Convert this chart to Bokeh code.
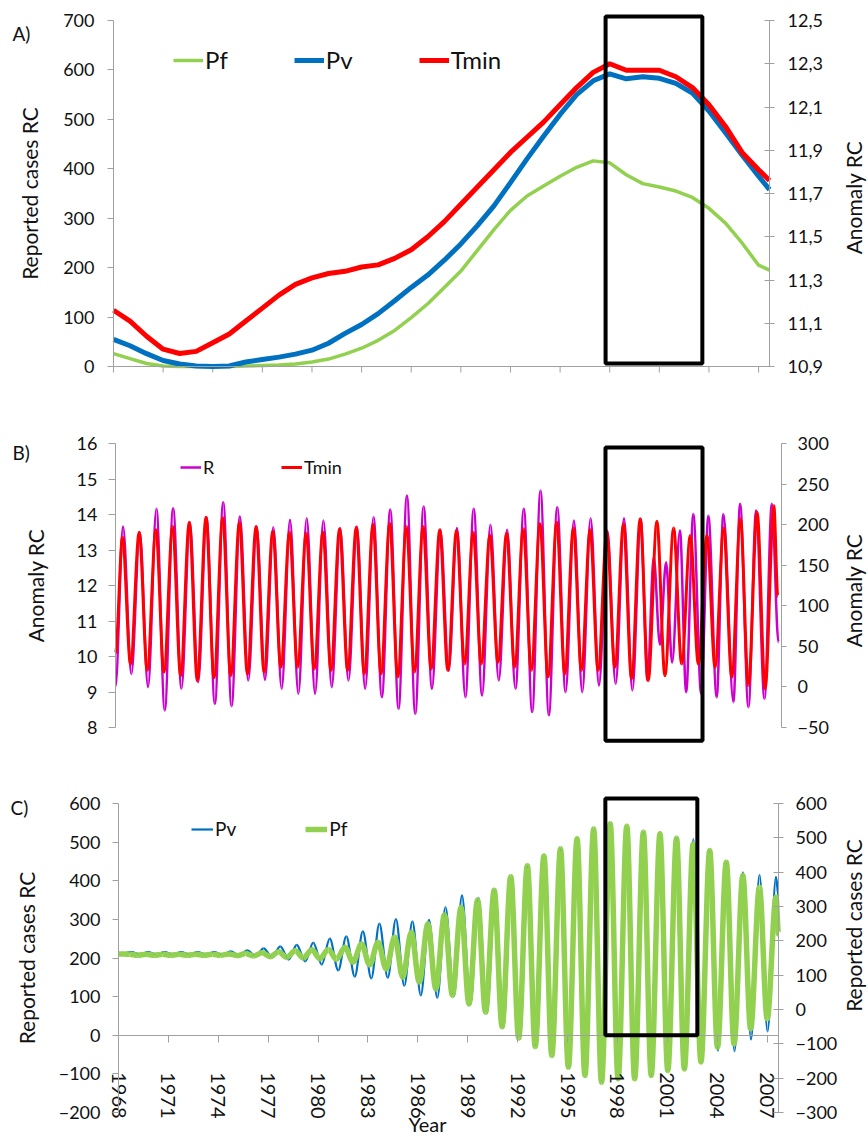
import math
from bokeh.plotting import figure
from bokeh.models import (ColumnDataSource, Range1d, LinearAxis, FixedTicker,
                          CustomJSTickFormatter, Legend, LegendItem, Label, PolyAnnotation)
from bokeh.layouts import column
from bokeh.embed import file_html
from bokeh.resources import INLINE

FONT = "Lato"
TXT = "#111111"
AXC = "#a0a0a0"
GREEN = "#92D050"
BLUE = "#0070C0"
RED = "#FF0000"
MAGENTA = "#CC00CC"

YEARS = list(range(1968, 2008))
TICK_YEARS = list(range(1968, 2008, 3))

# ---------------- Panel A : smoothed series ----------------
A_T = YEARS + [2007.66]
A_PF = [26, 16, 6, 1, 0, 0, 0, 0, 1, 2, 3, 5, 9, 15, 25, 37, 53, 73, 99, 127,
        160, 193, 235, 277, 316, 345, 365, 385, 403, 416, 412, 388, 370, 363, 355, 342,
        320, 290, 250, 205, 195]
A_PV = [55, 42, 26, 12, 5, 1, 0, 1, 9, 14, 19, 25, 33, 47, 67, 85, 107, 133, 160, 185,
        215, 248, 285, 325, 372, 420, 466, 510, 550, 578, 592, 582, 586, 583, 573, 553,
        517, 473, 428, 385, 358]
A_TMIN = [11.16, 11.11, 11.04, 10.98, 10.96, 10.97, 11.01, 11.05, 11.11, 11.17,
          11.23, 11.28, 11.31, 11.33, 11.34, 11.36, 11.37, 11.40, 11.44, 11.50,
          11.57, 11.65, 11.73, 11.81, 11.89, 11.96, 12.03, 12.11, 12.19, 12.26,
          12.30, 12.27, 12.27, 12.27, 12.24, 12.19, 12.11, 12.01, 11.89, 11.81, 11.76]
A_BOX = (1997.75, 2003.6, 6, 708)

# ---------------- Panel B : seasonal R and Tmin ----------------
B_TMIN_START, B_TMIN_END = 10.1, 11.7
B_TMIN_PEAKS = [13.36, 13.50, 13.57, 13.66, 13.78, 13.92, 13.91, 13.78, 13.66, 13.53,
                13.50, 13.47, 13.50, 13.60, 13.64, 13.72, 13.75, 13.66, 13.66, 13.57,
                13.55, 13.50, 13.41, 13.47, 13.60, 13.74, 13.78, 13.62, 13.57, 13.50,
                13.74, 13.88, 13.81, 13.62, 13.41, 13.41, 13.62, 13.88, 14.06, 14.25]
B_TMIN_TROUGHS = [9.79, 9.61, 9.56, 9.46, 9.32, 9.40, 9.46, 9.51, 9.56, 9.70,
                  9.70, 9.65, 9.61, 9.61, 9.51, 9.51, 9.42, 9.56, 9.65, 9.61,
                  9.79, 9.79, 9.84, 9.70, 9.61, 9.42, 9.51, 9.61, 9.61, 9.70,
                  9.37, 9.32, 9.46, 9.79, 9.79, 9.70, 9.42, 9.18, 9.09]
B_R_START, B_R_END = 0.5, 55
B_R_PEAKS = [197.7, 190.7, 219.5, 220.3, 203, 209, 227.7, 210, 197.7, 196.9,
             206, 208, 205, 196, 197.7, 209, 218.7, 236, 222.4, 193.6,
             196, 219.5, 199.8, 193.6, 219.5, 242, 221.5, 205, 208, 192.8,
             208, 207, 160, 153.7, 192.8, 213, 211, 213, 225.7, 217.4, 225.7]
B_R_TROUGHS = [16, -0.3, -29, -2.3, 5.8, -20.8, -23.7, 7.9, 8.8, -2.3,
               -8.5, -8.5, -0.3, 7.9, -2.3, -12.7, -27, -33, -2.3, 20,
               -12.7, -10.6, 7.9, -2.3, -31, -35, -6.5, -6.5, 1.8, 3.8,
               -4.4, 8, 52, 30, -6.5, -8.5, -12.7, -18.8, -25, -14.6]
B_R_PEAK_T = [y + 0.45 for y in range(1968, 2000)] + \
    [2000.23, 2000.97, 2001.8, 2002.6, 2003.5, 2004.4, 2005.4, 2006.36, 2007.3]
B_R_TROUGH_T = [y + 0.95 for y in range(1968, 1999)] + \
    [1999.85, 2000.6, 2001.33, 2002.17, 2003.07, 2004.0, 2005.0, 2005.9, 2006.86]
B_BOX = (1997.34, 2003.15, 7.63, 15.89)

# ---------------- Panel C : seasonal Pv and Pf ----------------
C_START_T, C_END_T = 1968.0, 2007.68
C_PV_START, C_PV_END = 210, 360
C_PV_PEAKS = [215, 215, 215, 215, 215, 215, 217, 220, 225, 230,
              234, 240, 250, 256, 269, 289, 301, 295, 299, 332,
              362, 356, 375, 410, 440, 465, 483, 508, 534, 547,
              541, 525, 521, 510, 508, 478, 447, 422, 415, 410]
C_PV_TROUGHS = [209, 209, 209, 209, 209, 208, 207, 205, 201, 196,
                191, 183, 168, 152, 147, 149, 128, 103, 97, 101,
                79, 58, 20, -9, -31, -55, -85, -106, -124, -115,
                -115, -106, -94, -89, -72, -40, -42, -11, 10]
C_PF_START, C_PF_END = 162, 220
C_PF_PEAKS = [161, 161, 161, 161, 161, 161, 162, 163, 165, 168,
              171, 174, 175, 181, 191, 196, 211, 225, 249, 276,
              298, 320, 347, 387, 419, 447, 468, 497, 526, 541,
              534, 516, 512, 499, 482, 463, 429, 390, 356, 327]
C_PF_TROUGHS = [158, 158, 158, 158, 158, 158, 157, 156, 154, 152,
                150, 148, 146, 138, 130, 118, 94, 80, 60, 41,
                16, -8, -50, -83, -108, -134, -168, -192, -212, -202,
                -202, -192, -178, -173, -153, -110, -100, -56, -27]
C_PV_PEAK_T = [y + 0.78 - 0.25 * (y - 1968) / 39 for y in YEARS]
C_PV_TROUGH_T = [y + 0.30 - 0.28 * (y - 1969) / 38 for y in YEARS[1:]]
C_PF_PEAK_T = [y + 0.66 - 0.13 * (y - 1968) / 39 for y in YEARS]
C_PF_TROUGH_T = [y + 0.15 - 0.15 * (y - 1969) / 38 for y in YEARS[1:]]
C_BOX = (1997.27, 2002.8, 0, 613)

W = 868


def geo_range(va, pa_, vb, pb_, total):
    """Range whose value va sits at pixel pa_ and vb at pixel pb_ (of a total span)."""
    s = (vb - va) / (pb_ - pa_)
    start = va - pa_ * s
    return Range1d(start, start + total * s)


def extrema_sequence(t0, v0, pt, pv, tt, tv, t1, v1):
    t, v = [t0], [v0]
    for i in range(len(pt)):
        t.append(pt[i]); v.append(pv[i])
        if i < len(tt):
            t.append(tt[i]); v.append(tv[i])
    t.append(t1); v.append(v1)
    return t, v


def smooth_source(t, v):
    d = dict(x0=[], y0=[], x1=[], y1=[], cx0=[], cy0=[], cx1=[], cy1=[])
    for i in range(len(t) - 1):
        a, b = t[i], t[i + 1]
        h = (b - a) / 3.0
        d["x0"].append(a); d["y0"].append(v[i])
        d["x1"].append(b); d["y1"].append(v[i + 1])
        d["cx0"].append(a + h); d["cy0"].append(v[i])
        d["cx1"].append(b - h); d["cy1"].append(v[i + 1])
    return ColumnDataSource(d)


def style_axis(ax, tin, tout, lab_standoff, title_standoff, size="18px"):
    ax.axis_line_color = AXC
    ax.axis_line_width = 1
    ax.major_tick_line_color = AXC
    ax.minor_tick_line_color = None
    ax.major_tick_in = tin
    ax.major_tick_out = tout
    ax.major_label_standoff = lab_standoff
    ax.major_label_text_font = FONT
    ax.major_label_text_font_size = size
    ax.major_label_text_color = TXT
    ax.axis_label_standoff = title_standoff
    ax.axis_label_text_font = FONT
    ax.axis_label_text_font_size = "21px"
    ax.axis_label_text_font_style = "normal"
    ax.axis_label_text_color = TXT


def base_fig(h, xr, yr):
    p = figure(width=W, height=h, min_border=0, min_border_left=0, min_border_right=0,
               min_border_top=0, min_border_bottom=0, x_range=xr, y_range=yr,
               output_backend="svg", toolbar_location=None)
    p.outline_line_color = None
    p.xgrid.visible = False
    p.ygrid.visible = False
    p.background_fill_color = "white"
    p.border_fill_color = "white"
    return p


def box(p, b):
    x0, x1, y0, y1 = b
    p.add_layout(PolyAnnotation(xs=[x0, x1, x1, x0], ys=[y0, y0, y1, y1],
                                fill_alpha=0, line_alpha=1.0,
                                line_color="black", line_width=4))


def text_label(p, text, x, y, size="19px", align="left", angle=0.0):
    p.add_layout(Label(x=x, y=y, x_units="screen", y_units="screen", text=text,
                       text_font=FONT, text_font_size=size, text_color=TXT,
                       text_align=align, text_baseline="middle", angle=angle))


def right_title(p, text, x, y):
    # vertical axis title reading bottom-to-top, like the reference
    text_label(p, text, x, y, size="21px", align="center", angle=math.pi / 2)


def make_legend(p, items, loc, spacing, gw, fs):
    leg = Legend(items=[LegendItem(label=l, renderers=[r]) for l, r in items],
                 orientation="horizontal", location=loc, spacing=spacing,
                 glyph_width=gw, glyph_height=14, label_standoff=2, padding=0, margin=0,
                 border_line_color=None, background_fill_alpha=0,
                 label_text_font=FONT, label_text_font_size=fs, label_text_color=TXT,
                 label_height=14)
    p.add_layout(leg)


BEZ = dict(x0="x0", y0="y0", x1="x1", y1="y1", cx0="cx0", cy0="cy0", cx1="cx1", cy1="cy1")

# ================= Panel A =================
HA = 400
A_X0, A_X1 = 1968, 2007.66
pa = base_fig(HA, geo_range(A_X0, 113, A_X1, 769, W), geo_range(0, 34, 700, 380, HA))
pa.extra_y_ranges = {"right": geo_range(10.9, 34, 12.5, 380, HA)}
ya = pa.yaxis[0]
ya.ticker = FixedTicker(ticks=[0, 100, 200, 300, 400, 500, 600, 700])
ya.axis_label = "Reported cases RC"
ya.fixed_location = A_X0
ya.bounds = (0, 700)
style_axis(ya, 0, 6, 13, 18)
xa = pa.xaxis[0]
xa.ticker = FixedTicker(ticks=[])
xa.fixed_location = 0
xa.bounds = (A_X0, A_X1)
style_axis(xa, 0, 0, 4, 4)
ra = LinearAxis(y_range_name="right",
                ticker=FixedTicker(ticks=[10.9, 11.1, 11.3, 11.5, 11.7, 11.9, 12.1, 12.3, 12.5]),
                formatter=CustomJSTickFormatter(code="return tick.toFixed(1).replace('.', ',');"),
                fixed_location=A_X1, bounds=(10.9, 12.5))
style_axis(ra, 5, 5, 13, 24)
pa.add_layout(ra, "right")
right_title(pa, "Anomaly RC", 853, HA - 197)
# x tick marks of panel A (6 px long, below the axis)
tick_len_a = 6 * 700 / 346
pa.segment(x0=TICK_YEARS, y0=[0] * len(TICK_YEARS), x1=TICK_YEARS,
           y1=[-tick_len_a] * len(TICK_YEARS), line_color=AXC, line_width=1)

r_pf = pa.line(A_T, A_PF, line_color=GREEN, line_width=3.5)
r_pv = pa.line(A_T, A_PV, line_color=BLUE, line_width=5)
r_tm = pa.line(A_T, A_TMIN, line_color=RED, line_width=5, y_range_name="right")
box(pa, A_BOX)
make_legend(pa, [("Pf", r_pf), ("Pv", r_pv), ("Tmin", r_tm)], (173, 326), 66, 30, "24px")
text_label(pa, "A)", 12, HA - 33)

# ================= Panel B =================
HB = 370
B_X0, B_X1 = 1968, 2007.88
pb = base_fig(HB, geo_range(B_X0, 115, B_X1, 781, W), geo_range(8, 43, 16, 327, HB))
pb.extra_y_ranges = {"right": geo_range(-50, 43, 300, 327, HB)}
pb.xaxis.visible = False
yb = pb.yaxis[0]
yb.ticker = FixedTicker(ticks=list(range(8, 17)))
yb.axis_label = "Anomaly RC"
yb.fixed_location = B_X0
yb.bounds = (8, 16)
style_axis(yb, 0, 7, 11, 26)
rb = LinearAxis(y_range_name="right",
                ticker=FixedTicker(ticks=[-50, 0, 50, 100, 150, 200, 250, 300]),
                fixed_location=B_X1, bounds=(-50, 300))
style_axis(rb, 0, 5, 11, 19)
pb.add_layout(rb, "right")
right_title(pb, "Anomaly RC", 853, HB - 190)

rt, rv = extrema_sequence(1968.0, B_R_START, B_R_PEAK_T, B_R_PEAKS,
                          B_R_TROUGH_T, B_R_TROUGHS, 2007.7, B_R_END)
tmt, tmv = extrema_sequence(1968.0, B_TMIN_START, [y + 0.42 for y in YEARS], B_TMIN_PEAKS,
                            [y + 0.9 for y in YEARS[:-1]], B_TMIN_TROUGHS, 2007.66, B_TMIN_END)
r_r = pb.bezier(source=smooth_source(rt, rv), line_color=MAGENTA, line_width=2.5,
                y_range_name="right", **BEZ)
r_t = pb.bezier(source=smooth_source(tmt, tmv), line_color=RED, line_width=3, **BEZ)
box(pb, B_BOX)
make_legend(pb, [("R", r_r), ("Tmin", r_t)], (180, 292), 58, 21, "18px")
text_label(pb, "B)", 12, HB - 52)

# ================= Panel C =================
HC = 367
C_X0, C_X1 = 1968, 2007.68
pc = base_fig(HC, geo_range(C_X0, 118, C_X1, 778, W), geo_range(-200, 25, 600, 334, HC))
pc.extra_y_ranges = {"right": geo_range(-300, 25, 600, 334, HC)}
yc = pc.yaxis[0]
yc.ticker = FixedTicker(ticks=list(range(-200, 601, 100)))
yc.axis_label = "Reported cases RC"
yc.fixed_location = C_X0
yc.bounds = (-200, 600)
style_axis(yc, 0, 6, 12, 17)
xc = pc.xaxis[0]
xc.ticker = FixedTicker(ticks=TICK_YEARS)
xc.fixed_location = 0
xc.bounds = (C_X0, C_X1)
style_axis(xc, 0, 7, 30, 4, size="20px")
xc.major_label_orientation = -math.pi / 2
rc = LinearAxis(y_range_name="right",
                ticker=FixedTicker(ticks=list(range(-300, 601, 100))),
                fixed_location=C_X1, bounds=(-300, 600))
style_axis(rc, 5, 5, 12, 18)
pc.add_layout(rc, "right")
right_title(pc, "Reported cases RC", 853, HC - 155)

vt, vv = extrema_sequence(C_START_T, C_PV_START, C_PV_PEAK_T, C_PV_PEAKS,
                          C_PV_TROUGH_T, C_PV_TROUGHS, C_END_T, C_PV_END)
ft, fv = extrema_sequence(C_START_T, C_PF_START, C_PF_PEAK_T, C_PF_PEAKS,
                          C_PF_TROUGH_T, C_PF_TROUGHS, C_END_T, C_PF_END)
r_v = pc.bezier(source=smooth_source(vt, vv), line_color=BLUE, line_width=2.2, **BEZ)
r_f = pc.bezier(source=smooth_source(ft, fv), line_color=GREEN, line_width=5.5,
                y_range_name="right", **BEZ)
box(pc, C_BOX)
make_legend(pc, [("Pv", r_v), ("Pf", r_f)], (191, 297), 69, 22, "19px")
text_label(pc, "C)", 10, HC - 37)
text_label(pc, "Year", 427, 14, size="20px", align="center")

layout = column(pa, pb, pc, spacing=0)
open("out.html", "w").write(file_html(layout, INLINE))
